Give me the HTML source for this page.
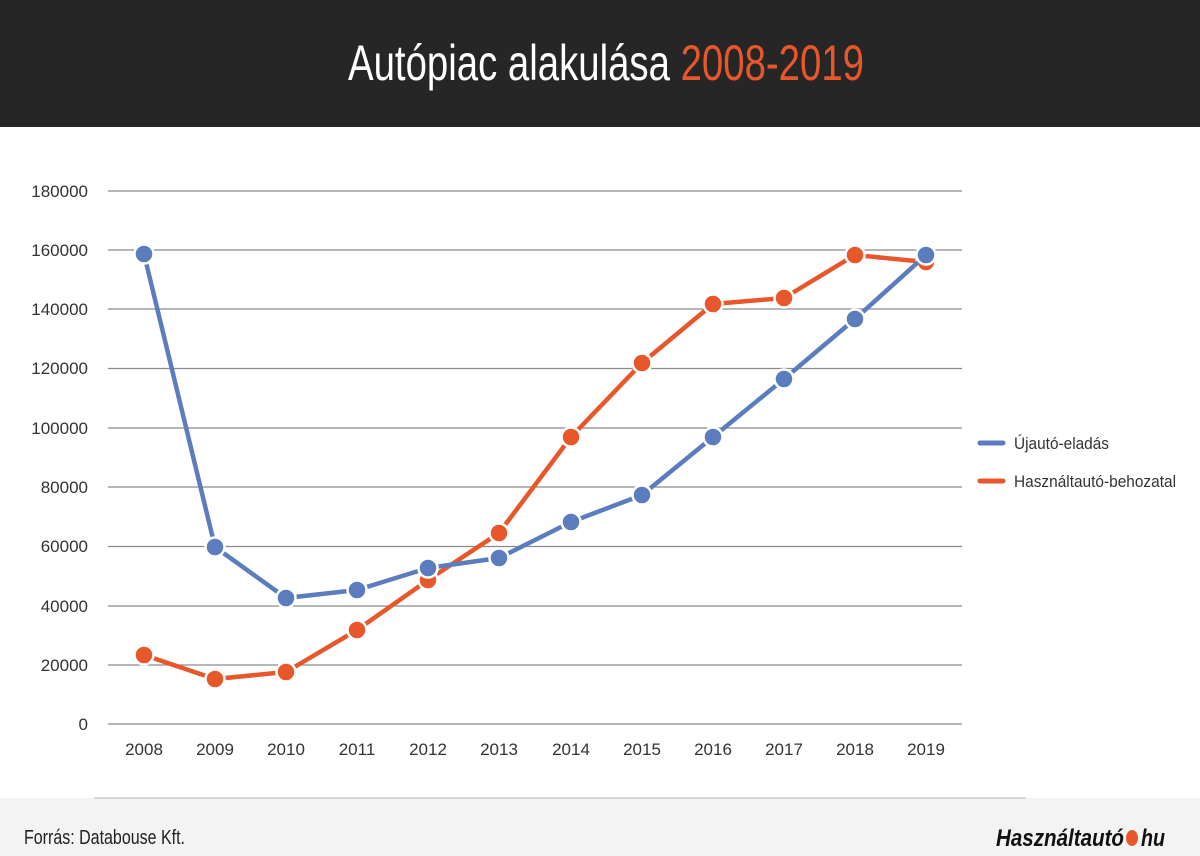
<!DOCTYPE html>
<html><head><meta charset="utf-8"><style>
body{margin:0;width:1200px;height:856px;overflow:hidden;background:#fff;font-family:"Liberation Sans Narrow","Liberation Sans",sans-serif}
</style></head><body>
<svg width="1200" height="856" xmlns="http://www.w3.org/2000/svg" style="position:absolute;left:0;top:0">
<rect x="0" y="0" width="1200" height="127" fill="#262626"/>
<text x="606" y="80" text-anchor="middle" font-size="50" fill="#fff" font-family="Liberation Sans Narrow, Liberation Sans, sans-serif" textLength="516" lengthAdjust="spacingAndGlyphs">Autópiac alakulása <tspan fill="#e8572a">2008-2019</tspan></text>
<g stroke="#8a8a8a" stroke-width="1.3">
<line x1="108" x2="962" y1="191" y2="191"/><line x1="108" x2="962" y1="250" y2="250"/><line x1="108" x2="962" y1="309" y2="309"/><line x1="108" x2="962" y1="368.5" y2="368.5"/><line x1="108" x2="962" y1="428" y2="428"/><line x1="108" x2="962" y1="487" y2="487"/><line x1="108" x2="962" y1="546.5" y2="546.5"/><line x1="108" x2="962" y1="606" y2="606"/><line x1="108" x2="962" y1="665" y2="665"/><line x1="108" x2="962" y1="724" y2="724"/>
</g>
<g font-size="17" fill="#333" text-anchor="end" font-family="Liberation Sans Narrow, Liberation Sans, sans-serif">
<text x="88" y="197">180000</text><text x="88" y="256">160000</text><text x="88" y="315">140000</text><text x="88" y="374">120000</text><text x="88" y="434">100000</text><text x="88" y="493">80000</text><text x="88" y="552">60000</text><text x="88" y="612">40000</text><text x="88" y="671">20000</text><text x="88" y="730">0</text>
</g>
<g font-size="17" fill="#333" text-anchor="middle" font-family="Liberation Sans Narrow, Liberation Sans, sans-serif">
<text x="144" y="755">2008</text><text x="215" y="755">2009</text><text x="286" y="755">2010</text><text x="357" y="755">2011</text><text x="428" y="755">2012</text><text x="499" y="755">2013</text><text x="571" y="755">2014</text><text x="642" y="755">2015</text><text x="713" y="755">2016</text><text x="784" y="755">2017</text><text x="855" y="755">2018</text><text x="926" y="755">2019</text>
</g>
<polyline fill="none" stroke="#e8572a" stroke-width="4.5" stroke-linejoin="round" points="144,655 215,679 286,672 357,630 428,580 499,533 571,437 642,363 713,304 784,298 855,255 926,262"/>
<g fill="#e8572a" stroke="#fff" stroke-width="2.5">
<circle cx="144" cy="655" r="9.5"/><circle cx="215" cy="679" r="9.5"/><circle cx="286" cy="672" r="9.5"/><circle cx="357" cy="630" r="9.5"/><circle cx="428" cy="580" r="9.5"/><circle cx="499" cy="533" r="9.5"/><circle cx="571" cy="437" r="9.5"/><circle cx="642" cy="363" r="9.5"/><circle cx="713" cy="304" r="9.5"/><circle cx="784" cy="298" r="9.5"/><circle cx="855" cy="255" r="9.5"/><circle cx="926" cy="262" r="9.5"/>
</g>
<polyline fill="none" stroke="#5b7dbd" stroke-width="4.5" stroke-linejoin="round" points="144,254 215,547 286,598 357,590 428,568 499,558 571,522 642,495 713,437 784,379 855,319 926,255"/>
<g fill="#5b7dbd" stroke="#fff" stroke-width="2.5">
<circle cx="144" cy="254" r="9.5"/><circle cx="215" cy="547" r="9.5"/><circle cx="286" cy="598" r="9.5"/><circle cx="357" cy="590" r="9.5"/><circle cx="428" cy="568" r="9.5"/><circle cx="499" cy="558" r="9.5"/><circle cx="571" cy="522" r="9.5"/><circle cx="642" cy="495" r="9.5"/><circle cx="713" cy="437" r="9.5"/><circle cx="784" cy="379" r="9.5"/><circle cx="855" cy="319" r="9.5"/><circle cx="926" cy="255" r="9.5"/>
</g>
<line x1="980" x2="1003" y1="443" y2="443" stroke="#5b7dbd" stroke-width="5" stroke-linecap="round"/>
<line x1="980" x2="1003" y1="481" y2="481" stroke="#e8572a" stroke-width="5" stroke-linecap="round"/>
<g font-size="17" fill="#333" font-family="Liberation Sans Narrow, Liberation Sans, sans-serif">
<text x="1014" y="449" textLength="95" lengthAdjust="spacingAndGlyphs">Újautó-eladás</text><text x="1014" y="487" textLength="162" lengthAdjust="spacingAndGlyphs">Használtautó-behozatal</text>
</g>
<rect x="0" y="798" width="1200" height="58" fill="#f3f3f3"/>
<line x1="94" x2="1026" y1="798" y2="798" stroke="#ccc" stroke-width="1.5"/>
<text x="24" y="844" font-size="20" fill="#222" font-family="Liberation Sans Narrow, Liberation Sans, sans-serif" textLength="161" lengthAdjust="spacingAndGlyphs">Forrás: Databouse Kft.</text>
<text x="996" y="846" font-size="24" font-weight="bold" font-style="italic" fill="#111" font-family="Liberation Sans Narrow, Liberation Sans, sans-serif" textLength="128" lengthAdjust="spacingAndGlyphs">Használtautó</text>
<ellipse cx="1132" cy="838" rx="6" ry="8" fill="#e8572a"/>
<text x="1141" y="846" font-size="24" font-weight="bold" font-style="italic" fill="#111" font-family="Liberation Sans Narrow, Liberation Sans, sans-serif" textLength="24" lengthAdjust="spacingAndGlyphs">hu</text>
</svg>
</body></html>
